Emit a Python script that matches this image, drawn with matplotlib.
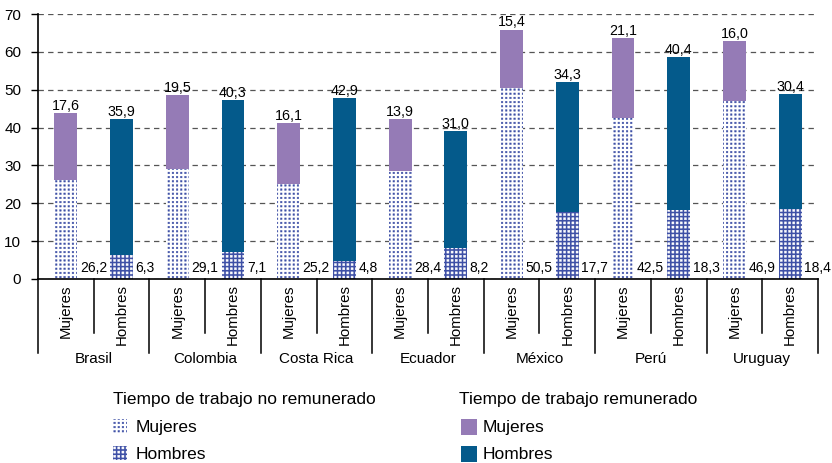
import numpy as np
import matplotlib
matplotlib.use("Agg")
import matplotlib.pyplot as plt
from matplotlib import hatch as mhatch
from matplotlib.path import Path
from matplotlib.patches import Rectangle
import matplotlib.transforms as mtransforms

# ---- data -------------------------------------------------------------
countries = ["Brasil", "Colombia", "Costa Rica", "Ecuador", "México", "Perú", "Uruguay"]
sexes = ["Mujeres", "Hombres"]
unpaid_women = [26.2, 29.1, 25.2, 28.4, 50.5, 42.5, 46.9]
unpaid_men = [6.3, 7.1, 4.8, 8.2, 17.7, 18.3, 18.4]
paid_women = [17.6, 19.5, 16.1, 13.9, 15.4, 21.1, 16.0]
paid_men = [35.9, 40.3, 42.9, 31.0, 34.3, 40.4, 30.4]
yticks = [0, 10, 20, 30, 40, 50, 60, 70]

PURPLE = "#957bb6"
NAVY = "#045a8b"
DOT_BLUE = "#3e50a6"


# ---- square dots on a regular (non-staggered) grid ------------------------
class DotGrid(mhatch.HatchPatternBase):
    """'.' -> small filled dots on a square grid."""
    char = '.'
    size = 0.19

    def __init__(self, hatch, density):
        self.num_rows = hatch.count(self.char) * density
        self.num_vertices = self.num_rows ** 2 * 5 if self.num_rows else 0

    def set_vertices_and_codes(self, vertices, codes):
        n = self.num_rows
        step = 1.0 / n
        h = step * self.size
        square = np.array([[-h, -h], [h, -h], [h, h], [-h, h], [-h, -h]])
        c = (np.arange(n) + 0.5) * step
        cx, cy = np.meshgrid(c, c)
        centers = np.stack([cx.ravel(), cy.ravel()], axis=1)
        vertices[:] = (square[None, :, :] + centers[:, None, :]).reshape(-1, 2)
        one = [Path.MOVETO, Path.LINETO, Path.LINETO, Path.LINETO, Path.CLOSEPOLY]
        codes[:] = np.tile(one, n * n)


class BigDotGrid(DotGrid):
    """'o' -> larger filled dots on a square grid."""
    char = 'o'
    size = 0.25


_swap = {mhatch.SmallFilledCircles: DotGrid, mhatch.SmallCircles: BigDotGrid}
mhatch._hatch_types[:] = [_swap.get(t, t) for t in mhatch._hatch_types]

plt.rcParams["font.family"] = ["Liberation Sans", "DejaVu Sans"]
plt.rcParams["hatch.linewidth"] = 0.3

W, H = 832, 463
fig = plt.figure(figsize=(W / 100, H / 100), dpi=100)
ax = fig.add_axes([38 / W, 1 - 279 / H, 780 / W, 265 / H])

n = len(countries)
xw = np.arange(n) * 2
xm = xw + 1
bw = 0.41

ax.bar(xw, unpaid_women, bw, color="white", edgecolor=DOT_BLUE, hatch="....", linewidth=0, zorder=2)
ax.bar(xw, paid_women, bw, bottom=unpaid_women, color=PURPLE, linewidth=0, zorder=2)
ax.bar(xm, unpaid_men, bw, color=DOT_BLUE, edgecolor="white", hatch="oooo", linewidth=0, zorder=2)
ax.bar(xm, paid_men, bw, bottom=unpaid_men, color=NAVY, linewidth=0, zorder=2)

# value labels
for x, u, p in list(zip(xw, unpaid_women, paid_women)) + list(zip(xm, unpaid_men, paid_men)):
    ax.text(x + bw / 2 + 0.045, 1.8, f"{u:.1f}".replace(".", ","), ha="left", va="baseline",
            fontsize=10, zorder=3)
    ax.text(x, u + p + 0.8, f"{p:.1f}".replace(".", ","), ha="center", va="baseline",
            fontsize=10.3, zorder=3)

ax.set_xlim(-0.5, 2 * n - 0.5)
ax.set_ylim(0, 70)
ax.set_yticks(yticks)
ax.set_yticklabels([str(t) for t in yticks], fontsize=11)
ax.tick_params(axis="y", length=5, width=1, pad=7, direction="out")
ax.set_xticks([])
ax.set_axisbelow(True)
ax.yaxis.grid(True, color="#555555", linestyle=(0, (4.3, 3.4)), linewidth=0.9)

for s in ("top", "right"):
    ax.spines[s].set_visible(False)
ax.spines["left"].set_linewidth(1.2)
ax.spines["bottom"].set_linewidth(1.2)

# category axis: sex labels, separators, country names
tr = mtransforms.blended_transform_factory(ax.transData, ax.transAxes)
for i in range(n):
    for j, sx in enumerate(sexes):
        ax.text(2 * i + j, -0.019, sx, rotation=90, ha="center", va="top",
                fontsize=10.8, transform=tr)
    ax.plot([2 * i + 0.5] * 2, [0, -0.204], color="black", lw=1.1, transform=tr, clip_on=False)
    ax.plot([2 * i - 0.5] * 2, [0, -0.279], color="black", lw=1.1, transform=tr, clip_on=False)
    ax.text(2 * i + 0.5, -0.317, countries[i], ha="center", va="baseline",
            fontsize=11, transform=tr)
ax.plot([2 * n - 0.5] * 2, [0, -0.279], color="black", lw=1.1, transform=tr, clip_on=False)


# ---- legend -----------------------------------------------------------
def fx(px):
    return px / W


def fy(py):
    return 1 - py / H


LEG_FS = 12.5
fig.text(fx(113), fy(404), "Tiempo de trabajo no remunerado", fontsize=LEG_FS, va="baseline")
fig.text(fx(459), fy(404), "Tiempo de trabajo remunerado", fontsize=LEG_FS, va="baseline")

entries = [
    (113, 419, 14, dict(facecolor="white", edgecolor=DOT_BLUE, hatch="....")),
    (113, 446, 14, dict(facecolor=DOT_BLUE, edgecolor="white", hatch="oooo")),
    (461, 419, 16, dict(facecolor=PURPLE, edgecolor=PURPLE)),
    (461, 446, 16, dict(facecolor=NAVY, edgecolor=NAVY)),
]
for k, (x0, y0, s, style) in enumerate(entries):
    fig.patches.append(Rectangle((fx(x0), fy(y0 + s)), s / W, s / H, linewidth=0,
                                 transform=fig.transFigure, figure=fig, **style))
    label = sexes[k % 2]
    tx = 136 if x0 < 300 else 483
    fig.text(fx(tx), fy(432 if k % 2 == 0 else 459), label, fontsize=LEG_FS, va="baseline")

fig.savefig("out.png", dpi=100)
